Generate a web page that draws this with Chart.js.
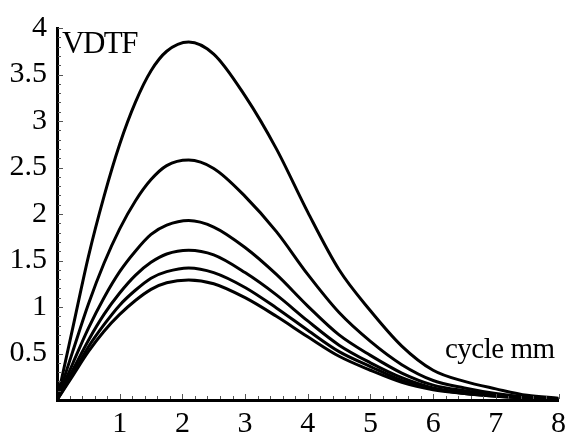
<!DOCTYPE html>
<html>
<head>
<meta charset="utf-8">
<script src="https://cdn.jsdelivr.net/npm/chart.js@4"></script>
<style>
  html, body { margin: 0; padding: 0; background: #fff; }
  #wrap { width: 572px; height: 441px; }
</style>
</head>
<body>
<div id="wrap"><canvas id="chart"></canvas></div>
<script>
// spatial frequency, cycle/mm
const freq = [0, 0.25, 0.5, 0.75, 1, 1.25, 1.5, 1.75, 2.1, 2.5, 3, 3.5, 4, 4.5, 5, 5.5, 6, 6.5, 7, 7.5, 8];

// VDTF curves, top to bottom
const vdtf1 = [0, 0.77, 1.54, 2.19, 2.75, 3.20, 3.54, 3.75, 3.85, 3.72, 3.27, 2.70, 2.02, 1.40, 0.96, 0.58, 0.32, 0.20, 0.12, 0.05, 0.02];
const vdtf2 = [0, 0.52, 1.03, 1.47, 1.84, 2.14, 2.37, 2.52, 2.58, 2.49, 2.19, 1.81, 1.35, 0.94, 0.63, 0.38, 0.21, 0.13, 0.07, 0.03, 0.01];
const vdtf3 = [0, 0.39, 0.77, 1.10, 1.38, 1.60, 1.78, 1.88, 1.93, 1.86, 1.64, 1.35, 1.01, 0.70, 0.48, 0.29, 0.16, 0.10, 0.06, 0.025, 0.01];
const vdtf4 = [0, 0.32, 0.64, 0.92, 1.15, 1.34, 1.48, 1.57, 1.61, 1.56, 1.37, 1.13, 0.85, 0.59, 0.40, 0.24, 0.13, 0.08, 0.05, 0.02, 0.01];
const vdtf5 = [0, 0.28, 0.57, 0.81, 1.02, 1.18, 1.31, 1.38, 1.42, 1.37, 1.21, 0.99, 0.75, 0.52, 0.36, 0.21, 0.12, 0.07, 0.04, 0.02, 0.01];
const vdtf6 = [0, 0.26, 0.52, 0.74, 0.92, 1.07, 1.19, 1.26, 1.29, 1.25, 1.10, 0.90, 0.68, 0.47, 0.32, 0.19, 0.11, 0.07, 0.04, 0.02, 0.01];

const xTicks = [1, 2, 3, 4, 5, 6, 7, 8];
const yTicks = [0.5, 1, 1.5, 2, 2.5, 3, 3.5, 4];

const FONT = "'Liberation Serif', 'DejaVu Serif', serif";

function toPoints(ys) {
	return freq.map(function(x, i) { return { x: x, y: ys[i] }; });
}

const series = [vdtf1, vdtf2, vdtf3, vdtf4, vdtf5, vdtf6];

// small inward ticks plus the two axis captions
const axisExtras = {
	id: "axisExtras",
	afterDraw: function(chart) {
		const ctx = chart.ctx;
		const xs = chart.scales.x;
		const ys = chart.scales.y;
		const area = chart.chartArea;
		ctx.save();
		ctx.strokeStyle = "#555";
		ctx.lineWidth = 1;
		ctx.beginPath();
		for (let i = 1; i <= 40; i++) {
			const v = i * 0.2;
			const px = Math.round(xs.getPixelForValue(v)) + 0.5;
			const len = (i % 5 === 0) ? 5 : 3;
			ctx.moveTo(px, area.bottom - 1);
			ctx.lineTo(px, area.bottom - 1 - len);
		}
		for (let j = 1; j <= 40; j++) {
			const v = j * 0.1;
			const py = Math.round(ys.getPixelForValue(v)) + 0.5;
			const len = (j % 5 === 0) ? 5 : 3;
			ctx.moveTo(area.left + 1, py);
			ctx.lineTo(area.left + 1 + len, py);
		}
		ctx.stroke();

		ctx.fillStyle = "#000";
		ctx.textBaseline = "alphabetic";
		ctx.textAlign = "left";
		ctx.font = "31px " + FONT;
		ctx.letterSpacing = "-1.5px";
		ctx.fillText("VDTF", 62, 53);
		ctx.font = "29px " + FONT;
		ctx.letterSpacing = "-0.5px";
		ctx.fillText("cycle mm", 445, 358);
		ctx.restore();
	}
};

new Chart(document.getElementById("chart"), {
	type: "line",
	data: {
		datasets: series.map(function(ys) {
			return {
				data: toPoints(ys),
				borderColor: "#000",
				borderWidth: 3,
				pointRadius: 0,
				fill: false,
				cubicInterpolationMode: "monotone"
			};
		})
	},
	options: {
		responsive: true,
		maintainAspectRatio: false,
		animation: false,
		layout: { padding: { top: 20, right: 11, left: 0, bottom: 0 } },
		plugins: {
			legend: { display: false },
			tooltip: { enabled: false }
		},
		scales: {
			x: {
				type: "linear",
				min: 0,
				max: 8,
				afterFit: function(s) { s.height = 41; },
				afterBuildTicks: function(s) {
					s.ticks = [{ value: 0 }].concat(xTicks.map(function(v) { return { value: v }; }));
				},
				grid: { display: false, drawTicks: false },
				border: { display: true, color: "#000", width: 3 },
				ticks: {
					autoSkip: false,
					maxRotation: 0,
					padding: 6,
					color: "#000",
					font: { family: FONT, size: 30 },
					callback: function(v) { return v === 0 ? "" : String(v); }
				}
			},
			y: {
				min: 0,
				max: 4,
				afterFit: function(s) { s.width = 57; },
				afterBuildTicks: function(s) {
					s.ticks = [{ value: 0 }].concat(yTicks.map(function(v) { return { value: v }; }));
				},
				grid: { display: false, drawTicks: false },
				border: { display: true, color: "#000", width: 3 },
				ticks: {
					autoSkip: false,
					padding: 10,
					color: "#000",
					font: { family: FONT, size: 30 },
					callback: function(v) { return v === 0 ? "" : String(v); }
				}
			}
		}
	},
	plugins: [axisExtras]
});
</script>
</body>
</html>
